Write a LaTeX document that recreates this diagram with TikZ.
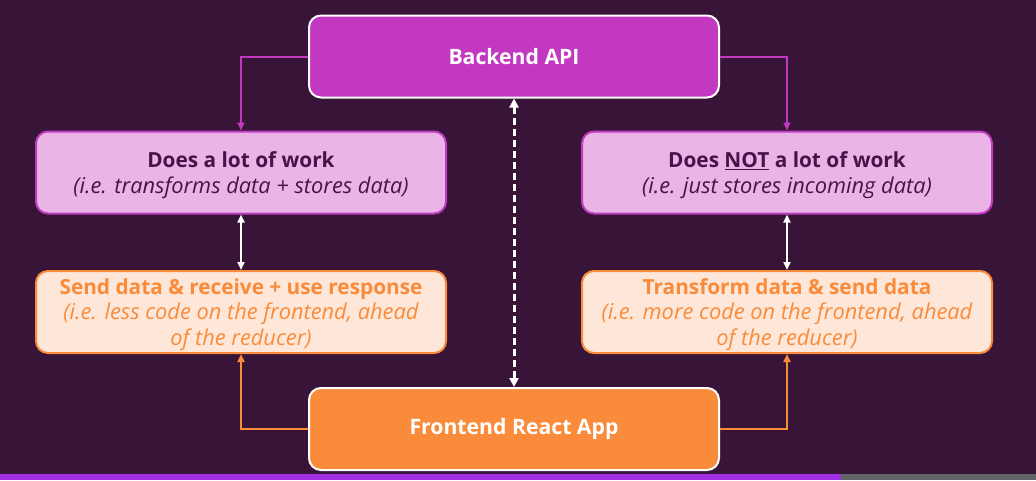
\documentclass[tikz,border=0pt]{standalone}
\usepackage{fontspec}
\setmainfont{Open Sans}
\usetikzlibrary{arrows.meta}
\definecolor{bg}{HTML}{381438}
\definecolor{mag}{HTML}{C238C0}
\definecolor{pinkfill}{HTML}{EAB4E7}
\definecolor{pinkline}{HTML}{C03CBE}
\definecolor{darktext}{HTML}{4A1248}
\definecolor{orange}{HTML}{F98B3A}
\definecolor{peach}{HTML}{FEE7D8}
\definecolor{barpurple}{HTML}{A22EE6}
\definecolor{bargray}{HTML}{5F6466}
\newcommand{\hdline}[1]{{\fontsize{20.8}{25.5}\selectfont\bfseries #1}}
\newcommand{\itline}[1]{{\fontsize{21.8}{25.5}\selectfont\itshape #1}}
\begin{document}
\begin{tikzpicture}[x=1pt,y=-1pt,
  basebox/.style={rounded corners=12pt, line width=2pt, minimum width=410pt,
    minimum height=82pt, inner sep=0pt},
  mainbox/.style={basebox, draw=white, text=white, align=center, font=\fontsize{21.2}{24}\selectfont\bfseries},
  pinkbox/.style={basebox, draw=pinkline, fill=pinkfill},
  peachbox/.style={basebox, draw=orange, fill=peach},
  boxtext/.style={align=center, inner sep=0pt, yshift=-2.5pt, font=\fontsize{20.8}{25.5}\selectfont},
  tipA/.style={-{Triangle[length=8pt,width=7pt]}},
  magline/.style={draw=mag, line width=2pt, tipA},
  orline/.style={draw=orange, line width=2pt, tipA},
  whitearrow/.style={draw=white, line width=2pt, {Triangle[length=8pt,width=7pt]}-{Triangle[length=8pt,width=7pt]}},
  dasharrow/.style={draw=white, line width=3pt, dash pattern=on 7pt off 4pt,
    {Triangle[length=9pt,width=9pt]}-{Triangle[length=9pt,width=9pt]}}
]
\fill[bg] (0,0) rectangle (1036,480);
\fill[barpurple] (0,474) rectangle (841,480);
\fill[bargray] (841,474) rectangle (1036,480);

\node[mainbox, fill=mag] (api) at (514,56.5) {Backend API};
\node[mainbox, fill=orange] (fe) at (514,429) {Frontend React App};

\node[pinkbox] (lt) at (241,172.5) {};
\node[boxtext, text=darktext] (ltt) at (lt.center) {\hdline{Does a lot of work}\\\itline{(i.e. transforms data + stores data)}};
\node[pinkbox] (rt) at (787,172.5) {};
\node[boxtext, text=darktext] (rtt) at (rt.center) {\hdline{Does \underline{NOT} a lot of work}\\\itline{(i.e. just stores incoming data)}};

\node[peachbox] (lb) at (241,312) {};
\node[boxtext, text=orange] (lbt) at (lb.center) {\hdline{Send data \& receive + use response}\\\itline{(i.e. less code on the frontend, ahead}\\\itline{of the reducer)}};
\node[peachbox] (rb) at (787,312) {};
\node[boxtext, text=orange] (rbt) at (rb.center) {\hdline{Transform data \& send data}\\\itline{(i.e. more code on the frontend, ahead}\\\itline{of the reducer)}};

\draw[magline] (api.west) -| (lt.north);
\draw[magline] (api.east) -| (rt.north);
\draw[orline] (fe.west) -| (lb.south);
\draw[orline] (fe.east) -| (rb.south);
\draw[whitearrow] (lt.south) -- (lb.north);
\draw[whitearrow] (rt.south) -- (rb.north);
\draw[dasharrow] (api.south) -- (fe.north);
\end{tikzpicture}
\end{document}
